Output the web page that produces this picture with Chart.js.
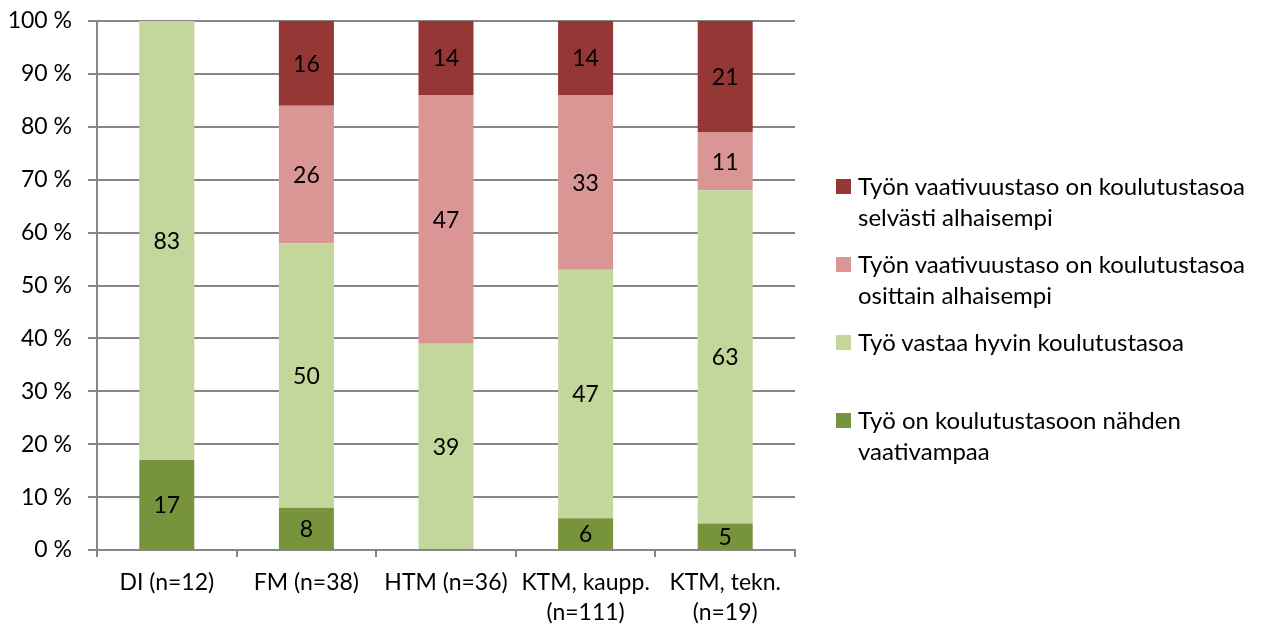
<!DOCTYPE html>
<html>
<head>
<meta charset="utf-8">
<script src="https://cdn.jsdelivr.net/npm/chart.js@4"></script>
<style>
html,body{margin:0;padding:0;background:#fff;}
#wrap{position:relative;width:1263px;height:626px;}
#legend{position:absolute;left:836px;top:0;font-family:Lato,"Open Sans",sans-serif;font-size:24px;color:#000;}
.item{position:absolute;left:0;width:427px;line-height:31px;padding-left:22px;white-space:nowrap;}
.sw{position:absolute;left:0;top:9px;width:15px;height:15px;}
</style>
</head>
<body>
<div id="wrap">
<canvas id="c" width="1263" height="626"></canvas>
<div id="legend"></div>
</div>
<script>
const categories = [["DI (n=12)"], ["FM (n=38)"], ["HTM (n=36)"], ["KTM, kaupp.", "(n=111)"], ["KTM, tekn.", "(n=19)"]];
const seriesNames = [
  "Työ on koulutustasoon nähden vaativampaa",
  "Työ vastaa hyvin koulutustasoa",
  "Työn vaativuustaso on koulutustasoa osittain alhaisempi",
  "Työn vaativuustaso on koulutustasoa selvästi alhaisempi"
];
const vaativampaa = [17, 8, 0, 6, 5];
const vastaa = [83, 50, 39, 47, 63];
const osittain = [0, 26, 47, 33, 11];
const selvasti = [0, 16, 14, 14, 21];
const yTicks = [0, 10, 20, 30, 40, 50, 60, 70, 80, 90, 100];
const colors = ["#77933C", "#C3D69B", "#D99694", "#953735"];

const FONT = "Lato, 'Open Sans', sans-serif";
const values = [vaativampaa, vastaa, osittain, selvasti];

const datasets = values.map((v, i) => ({
  label: seriesNames[i],
  data: v,
  backgroundColor: colors[i],
  borderWidth: 0,
  barPercentage: 0.394,
  categoryPercentage: 1.0
}));

const labelPlugin = {
  id: 'segLabels',
  afterDatasetsDraw(chart) {
    const ctx = chart.ctx;
    ctx.save();
    ctx.font = "23px " + FONT;
    ctx.fillStyle = "#000";
    ctx.textAlign = "center";
    ctx.textBaseline = "middle";
    chart.data.datasets.forEach((ds, di) => {
      const meta = chart.getDatasetMeta(di);
      meta.data.forEach((bar, i) => {
        const v = ds.data[i];
        if (!v) return;
        const yc = (bar.y + bar.base) / 2;
        ctx.fillText(String(v), bar.x, yc + 1);
      });
    });
    ctx.restore();
  }
};

new Chart(document.getElementById('c'), {
  type: 'bar',
  data: { labels: categories, datasets },
  options: {
    responsive: false,
    animation: false,
    layout: { padding: { top: 21, right: 468, left: 0, bottom: 0 } },
    plugins: { legend: { display: false }, tooltip: { enabled: false } },
    scales: {
      x: {
        stacked: true,
        grid: { display: true, drawOnChartArea: false, drawTicks: true, tickLength: 7, color: "#868686", lineWidth: 2, offset: true },
        border: { display: true, color: "#868686", width: 2 },
        ticks: { font: { family: FONT, size: 23, lineHeight: 1.3 }, color: "#000", padding: 11, maxRotation: 0, autoSkip: false },
        afterFit(s) { s.height = 76; s.paddingLeft = 0; s.paddingRight = 0; }
      },
      y: {
        stacked: true,
        min: 0, max: 100,
        afterBuildTicks(s) { s.ticks = yTicks.map(v => ({ value: v })); },
        grid: { color: "#868686", lineWidth: 2, tickLength: 9, drawTicks: true },
        border: { display: true, color: "#868686", width: 2 },
        ticks: { font: { family: FONT, size: 23 }, color: "#000", padding: 16, callback: v => v + " %" },
        afterFit(s) { s.width = 97; s.paddingTop = 0; s.paddingBottom = 0; }
      }
    }
  },
  plugins: [labelPlugin]
});

// legend (top to bottom: reverse series order)
const legendLayout = [
  { idx: 3, top: 170, lines: ["Työn vaativuustaso on koulutustasoa", "selvästi alhaisempi"] },
  { idx: 2, top: 248, lines: ["Työn vaativuustaso on koulutustasoa", "osittain alhaisempi"] },
  { idx: 1, top: 326, lines: ["Työ vastaa hyvin koulutustasoa"] },
  { idx: 0, top: 404, lines: ["Työ on koulutustasoon nähden", "vaativampaa"] }
];
const lg = document.getElementById('legend');
legendLayout.forEach(e => {
  const d = document.createElement('div');
  d.className = 'item';
  d.style.top = e.top + 'px';
  const sw = document.createElement('span');
  sw.className = 'sw';
  sw.style.background = colors[e.idx];
  d.appendChild(sw);
  e.lines.forEach((t, k) => {
    if (k) d.appendChild(document.createElement('br'));
    d.appendChild(document.createTextNode(t));
  });
  lg.appendChild(d);
});
</script>
</body>
</html>
